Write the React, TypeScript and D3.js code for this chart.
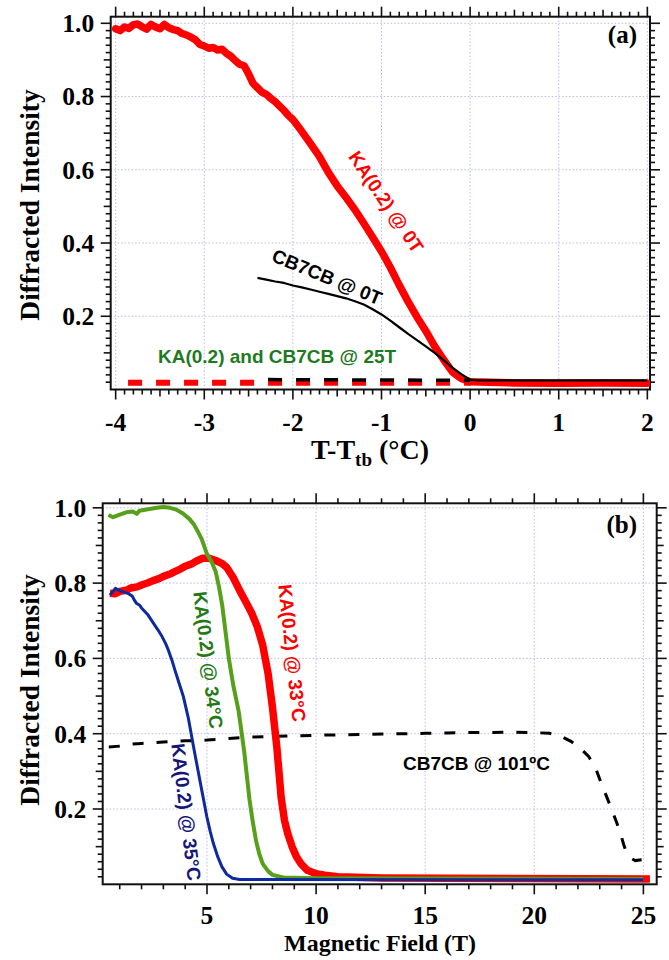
import React from "react";
import * as d3 from "d3";

const W = 669;
const H = 960;

// ---------- Panel (a): intensity vs T - T_tb ----------
const kaZeroField: [number, number][] = [
  [-4.0, 0.985], [-3.95, 0.98], [-3.9, 0.99], [-3.85, 0.986], [-3.8, 0.996], [-3.75, 0.998],
  [-3.7, 0.99], [-3.65, 0.984], [-3.6, 0.997], [-3.55, 0.99], [-3.5, 0.985], [-3.45, 0.997],
  [-3.4, 0.988], [-3.35, 0.983], [-3.3, 0.98], [-3.25, 0.972], [-3.2, 0.968], [-3.15, 0.962],
  [-3.1, 0.955], [-3.05, 0.942], [-3.0, 0.938], [-2.95, 0.932], [-2.9, 0.934], [-2.85, 0.927],
  [-2.8, 0.929], [-2.75, 0.918], [-2.7, 0.91], [-2.65, 0.898], [-2.6, 0.888], [-2.55, 0.884],
  [-2.5, 0.862], [-2.45, 0.836], [-2.4, 0.824], [-2.35, 0.812], [-2.3, 0.806], [-2.25, 0.795],
  [-2.2, 0.786], [-2.15, 0.774], [-2.1, 0.762], [-2.05, 0.748], [-2.0, 0.737], [-1.9, 0.705],
  [-1.8, 0.671], [-1.7, 0.636], [-1.6, 0.593], [-1.5, 0.556], [-1.4, 0.524], [-1.3, 0.491],
  [-1.2, 0.454], [-1.1, 0.416], [-1.0, 0.377], [-0.9, 0.333], [-0.8, 0.285], [-0.7, 0.24],
  [-0.6, 0.198], [-0.5, 0.16], [-0.4, 0.118], [-0.3, 0.082], [-0.2, 0.048], [-0.1, 0.03],
  [0.0, 0.021], [0.5, 0.018], [1.0, 0.017], [1.5, 0.018], [2.0, 0.017],
];

const cbZeroField: [number, number][] = [
  [-2.4, 0.305], [-2.3, 0.3], [-2.2, 0.295], [-2.1, 0.291], [-2.0, 0.284], [-1.9, 0.279],
  [-1.8, 0.273], [-1.7, 0.267], [-1.6, 0.261], [-1.5, 0.255], [-1.4, 0.249], [-1.3, 0.241],
  [-1.2, 0.232], [-1.1, 0.219], [-1.0, 0.205], [-0.9, 0.188], [-0.8, 0.17], [-0.7, 0.152],
  [-0.6, 0.135], [-0.5, 0.118], [-0.4, 0.1], [-0.3, 0.08], [-0.2, 0.06], [-0.1, 0.042],
  [0.0, 0.027], [0.1, 0.025], [2.0, 0.025],
];

const kaHighField: [number, number][] = [[-3.86, 0.0186], [0.0, 0.0186]];
const cbHighField: [number, number][] = [[-2.28, 0.027], [0.0, 0.025]];

const xTicksA = [-4, -3, -2, -1, 0, 1, 2];
const xTickLabelsA = ["-4", "-3", "-2", "-1", "0", "1", "2"];
const yTicks = [0.2, 0.4, 0.6, 0.8, 1.0];
const yTickLabels = ["0.2", "0.4", "0.6", "0.8", "1.0"];

// ---------- Panel (b): intensity vs magnetic field ----------
const ka33: [number, number][] = [
  [0.55, 0.773], [0.8, 0.772], [1.0, 0.778], [1.3, 0.781], [1.5, 0.787], [1.8, 0.79],
  [2.0, 0.795], [2.3, 0.801], [2.5, 0.806], [2.8, 0.812], [3.0, 0.818], [3.3, 0.824],
  [3.5, 0.83], [3.8, 0.838], [4.0, 0.845], [4.3, 0.851], [4.5, 0.858], [4.8, 0.866],
  [5.1, 0.866], [5.4, 0.86], [5.7, 0.852], [5.9, 0.842], [6.2, 0.815], [6.5, 0.78],
  [6.8, 0.748], [7.05, 0.72], [7.3, 0.685], [7.55, 0.636], [7.8, 0.56], [8.0, 0.47],
  [8.2, 0.365], [8.4, 0.23], [8.55, 0.17], [8.7, 0.135], [8.9, 0.1], [9.1, 0.073],
  [9.3, 0.055], [9.6, 0.037], [10.0, 0.028], [10.4, 0.024], [11.0, 0.02], [13.0, 0.017],
  [25.3, 0.014],
];

const ka34: [number, number][] = [
  [0.48, 0.981], [0.7, 0.975], [1.0, 0.982], [1.3, 0.988], [1.6, 0.99], [1.78, 0.984],
  [1.9, 0.992], [2.3, 0.996], [2.7, 1.0], [3.0, 1.002], [3.3, 1.0], [3.6, 0.995],
  [3.9, 0.985], [4.2, 0.97], [4.4, 0.956], [4.6, 0.935], [4.75, 0.918], [5.0, 0.877],
  [5.2, 0.858], [5.4, 0.83], [5.55, 0.79], [5.7, 0.74], [5.85, 0.67], [6.0, 0.6],
  [6.2, 0.53], [6.45, 0.46], [6.7, 0.355], [6.95, 0.224], [7.1, 0.165], [7.25, 0.115],
  [7.4, 0.08], [7.55, 0.055], [7.8, 0.035], [8.0, 0.025], [8.5, 0.018], [10.0, 0.016],
  [25.0, 0.014],
];

const ka35: [number, number][] = [
  [0.55, 0.768], [0.8, 0.786], [1.0, 0.78], [1.2, 0.776], [1.4, 0.772], [1.57, 0.766],
  [1.7, 0.752], [1.77, 0.746], [1.9, 0.742], [2.0, 0.734], [2.16, 0.724], [2.3, 0.715],
  [2.55, 0.693], [2.75, 0.676], [2.94, 0.658], [3.1, 0.64], [3.23, 0.622], [3.4, 0.594],
  [3.53, 0.569], [3.7, 0.538], [3.92, 0.498], [4.15, 0.44], [4.41, 0.357], [4.7, 0.268],
  [4.99, 0.18], [5.15, 0.14], [5.29, 0.109], [5.5, 0.072], [5.68, 0.047], [5.9, 0.027],
  [6.17, 0.016], [6.5, 0.013], [25.0, 0.012],
];

const cb101: [number, number][] = [
  [0.5, 0.365], [1.0, 0.367], [1.5, 0.372], [2.0, 0.374], [2.5, 0.376], [3.0, 0.378],
  [3.5, 0.38], [4.0, 0.381], [5.0, 0.383], [6.0, 0.387], [7.0, 0.391], [8.0, 0.393],
  [9.0, 0.394], [10.0, 0.396], [11.0, 0.397], [12.0, 0.398], [13.0, 0.399], [14.0, 0.4],
  [15.0, 0.401], [16.0, 0.402], [17.0, 0.403], [18.0, 0.403], [19.0, 0.404], [20.0, 0.403],
  [20.7, 0.401], [21.2, 0.394], [21.7, 0.379], [22.1, 0.362], [22.5, 0.339], [22.8, 0.31],
  [23.07, 0.268], [23.3, 0.235], [23.56, 0.197], [23.8, 0.16], [23.95, 0.135], [24.1, 0.105],
  [24.24, 0.082], [24.4, 0.07], [24.63, 0.063], [24.92, 0.065],
];

const xTicksB = [5, 10, 15, 20, 25];
const xTickLabelsB = ["5", "10", "15", "20", "25"];

// ---------- layout ----------
const SERIF = "'Liberation Serif', 'Times New Roman', serif";
const SANS = "'Liberation Sans', Arial, sans-serif";
const GRID = "#b9b9ee";
const TICK_FONT = 25.5;

const xA = d3.scaleLinear().domain([-4.056, 2.03]).range([110.7, 650]);
const yA = d3.scaleLinear().domain([0, 1.018]).range([389.5, 16.7]);
const xB = d3.scaleLinear().domain([0.22, 25.61]).range([102.7, 656.7]);
const yB = d3.scaleLinear().domain([0, 1.012]).range([884.3, 503.3]);

type Scale = d3.ScaleLinear<number, number>;

function near(a: number, b: number) {
  return Math.abs(a - b) < 1e-6;
}

function Frame(props: {
  x: Scale;
  y: Scale;
  xMajor: number[];
  xMajorLabels: string[];
  xMinor: number[];
  xMid: number[];
  labelDy: number;
}) {
  const { x, y, xMajor, xMajorLabels, xMinor, xMid, labelDy } = props;
  const [x0, x1] = x.range();
  const [y0, y1] = y.range(); // y0 bottom, y1 top
  const yMinor = d3.range(0.02, 1.001, 0.02).map((v) => +v.toFixed(2));
  const yMid = [0.1, 0.3, 0.5, 0.7, 0.9];
  const lenFor = (isMajor: boolean, isMid: boolean) => (isMajor ? 10 : isMid ? 7 : 5);

  const xt = xMinor.map((v) => {
    const isMajor = xMajor.some((m) => near(m, v));
    const isMid = xMid.some((m) => near(m, v));
    return { px: x(v), len: lenFor(isMajor, isMid) };
  });
  const yt = yMinor.map((v) => {
    const isMajor = yTicks.some((m) => near(m, v));
    const isMid = yMid.some((m) => near(m, v));
    return { py: y(v), len: lenFor(isMajor, isMid) };
  });

  return (
    <g>
      {/* dotted grid */}
      {xMajor.map((v) => (
        <line key={"gx" + v} x1={x(v)} x2={x(v)} y1={y0} y2={y1} stroke={GRID} strokeWidth={1} strokeDasharray="1.5 2" />
      ))}
      {yTicks.map((v) => (
        <line key={"gy" + v} x1={x0} x2={x1} y1={y(v)} y2={y(v)} stroke={GRID} strokeWidth={1} strokeDasharray="1.5 2" />
      ))}
      {/* ticks */}
      {xt.map((t, i) => (
        <g key={"tx" + i}>
          <line x1={t.px} x2={t.px} y1={y0} y2={y0 + t.len} stroke="#111" strokeWidth={1.6} />
          <line x1={t.px} x2={t.px} y1={y1} y2={y1 - t.len} stroke="#111" strokeWidth={1.6} />
        </g>
      ))}
      {yt.map((t, i) => (
        <g key={"ty" + i}>
          <line x1={x0} x2={x0 - t.len} y1={t.py} y2={t.py} stroke="#111" strokeWidth={1.6} />
          <line x1={x1} x2={x1 + t.len} y1={t.py} y2={t.py} stroke="#111" strokeWidth={1.6} />
        </g>
      ))}
      <rect x={x0} y={y1} width={x1 - x0} height={y0 - y1} fill="none" stroke="#111" strokeWidth={2} />
      {/* tick labels */}
      {xMajor.map((v, i) => (
        <text key={"lx" + v} x={x(v)} y={y0 + labelDy} textAnchor="middle" fontFamily={SERIF} fontWeight="bold" fontSize={TICK_FONT} fill="#000">
          {xMajorLabels[i]}
        </text>
      ))}
      {yTicks.map((v, i) => (
        <text key={"ly" + v} x={x0 - 16.5} y={y(v)} dy="0.35em" textAnchor="end" fontFamily={SERIF} fontWeight="bold" fontSize={TICK_FONT} fill="#000">
          {yTickLabels[i]}
        </text>
      ))}
    </g>
  );
}

function RotLabel(props: { x: number; y: number; angle: number; fill: string; text: string }) {
  return (
    <text
      transform={`translate(${props.x},${props.y}) rotate(${props.angle})`}
      textAnchor="middle"
      dominantBaseline="central"
      fontFamily={SANS}
      fontWeight="bold"
      fontSize={19}
      fill={props.fill}
    >
      {props.text}
    </text>
  );
}

export default function App() {
  const lineA = d3.line<[number, number]>().x((d) => xA(d[0])).y((d) => yA(d[1]));
  const lineB = d3.line<[number, number]>().x((d) => xB(d[0])).y((d) => yB(d[1]));

  const xMinorA = d3.range(-40, 21).map((i) => i / 10);
  const xMidA = [-3.5, -2.5, -1.5, -0.5, 0.5, 1.5];
  const xMinorB = d3.range(1, 26);

  return (
    <svg width={W} height={H} viewBox={`0 0 ${W} ${H}`} style={{ position: "absolute", left: 0, top: 0, background: "#fff" }}>
      <rect x={0} y={0} width={W} height={H} fill="#fff" />
      <defs>
        <clipPath id="clipA">
          <rect x={110.7} y={16.7} width={650 - 110.7} height={389.5 - 16.7} />
        </clipPath>
      </defs>

      {/* ===== panel (a) ===== */}
      <Frame x={xA} y={yA} xMajor={xTicksA} xMajorLabels={xTickLabelsA} xMinor={xMinorA} xMid={xMidA} labelDy={41.5} />
      <g clipPath="url(#clipA)">
        <path d={lineA(kaZeroField) || ""} fill="none" stroke="#ff0000" strokeWidth={7.5} strokeLinejoin="round" strokeLinecap="round" />
        <path d={lineA(kaHighField) || ""} fill="none" stroke="#ff0000" strokeWidth={6} strokeDasharray="14 14" />
        <path d={lineA(cbHighField) || ""} fill="none" stroke="#000" strokeWidth={3.5} strokeDasharray="14 14" />
        <path d={lineA(cbZeroField) || ""} fill="none" stroke="#000" strokeWidth={2.2} strokeLinejoin="round" />
      </g>
      <RotLabel x={386} y={202} angle={56} fill="#ff0000" text="KA(0.2) @ 0T" />
      <RotLabel x={327} y={277} angle={22.5} fill="#000" text="CB7CB @ 0T" />
      <text x={158} y={356} dominantBaseline="central" fontFamily={SANS} fontWeight="bold" fontSize={19} fill="#1e7a1e">
        KA(0.2) and CB7CB @ 25T
      </text>
      <text x={637} y={42.5} textAnchor="end" fontFamily={SERIF} fontWeight="bold" fontSize={25}>
        (a)
      </text>
      <text transform="translate(29,205) rotate(-90)" textAnchor="middle" dominantBaseline="central" fontFamily={SERIF} fontWeight="bold" fontSize={27.5}>
        Diffracted Intensity
      </text>
      <text x={370} y={459} textAnchor="middle" fontFamily={SERIF} fontWeight="bold" fontSize={28}>
        T-T<tspan fontSize={19} dy={7}>tb</tspan>
        <tspan dy={-7}> (°C)</tspan>
      </text>

      {/* ===== panel (b) ===== */}
      <Frame x={xB} y={yB} xMajor={xTicksB} xMajorLabels={xTickLabelsB} xMinor={xMinorB} xMid={[]} labelDy={39.5} />
      <path d={lineB(cb101) || ""} fill="none" stroke="#000" strokeWidth={3} strokeDasharray="11 13" />
      <path d={lineB(ka33) || ""} fill="none" stroke="#ff0000" strokeWidth={7.5} strokeLinejoin="round" />
      <path d={lineB(ka34) || ""} fill="none" stroke="#57a01c" strokeWidth={4} strokeLinejoin="round" />
      <path d={lineB(ka35) || ""} fill="none" stroke="#0e2a9c" strokeWidth={3} strokeLinejoin="round" />
      <RotLabel x={208} y={660} angle={83} fill="#237a14" text="KA(0.2) @ 34°C" />
      <RotLabel x={292} y={653} angle={84} fill="#ff0000" text="KA(0.2) @ 33°C" />
      <RotLabel x={186} y={812} angle={83} fill="#16167a" text="KA(0.2) @ 35°C" />
      <text x={403} y={763} dominantBaseline="central" fontFamily={SANS} fontWeight="bold" fontSize={19} fill="#000">
        CB7CB @ 101ºC
      </text>
      <text x={637} y={533} textAnchor="end" fontFamily={SERIF} fontWeight="bold" fontSize={25}>
        (b)
      </text>
      <text transform="translate(29,690) rotate(-90)" textAnchor="middle" dominantBaseline="central" fontFamily={SERIF} fontWeight="bold" fontSize={27.5}>
        Diffracted Intensity
      </text>
      <text x={380} y={951} textAnchor="middle" fontFamily={SERIF} fontWeight="bold" fontSize={24}>
        Magnetic Field (T)
      </text>
    </svg>
  );
}
